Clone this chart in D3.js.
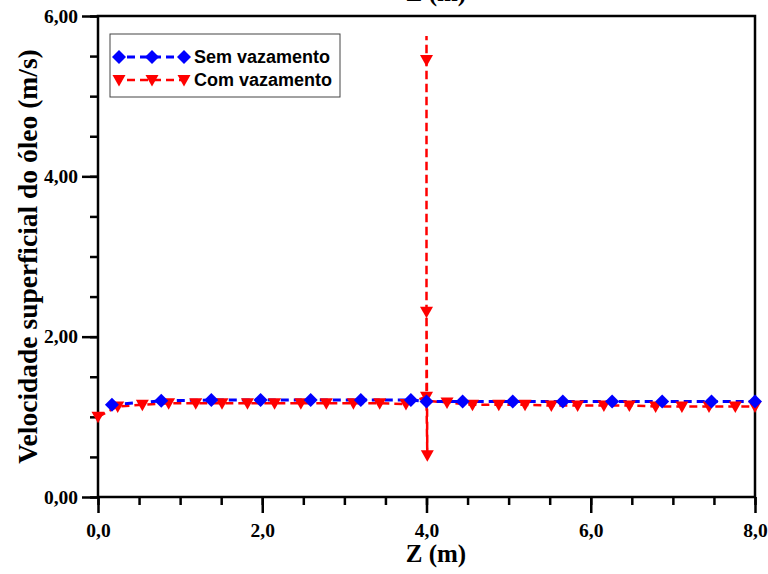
<!DOCTYPE html>
<html>
<head>
<meta charset="utf-8">
<script src="https://cdn.jsdelivr.net/npm/d3@7"></script>
<style>
html,body{margin:0;padding:0;background:#fff;}
svg{display:block;}
</style>
</head>
<body>
<svg id="chart" width="768" height="574"></svg>
<script>
// ---- data ----
const semZ = [0.17, 0.77, 1.38, 1.98, 2.59, 3.20, 3.81, 4.00, 4.44, 5.05, 5.66, 6.26, 6.87, 7.47, 8.00];
const semV = [1.15, 1.20, 1.21, 1.21, 1.21, 1.21, 1.21, 1.19, 1.19, 1.19, 1.19, 1.19, 1.19, 1.19, 1.19];

const comZ = [0.00, 0.24, 0.54, 0.86, 1.19, 1.51, 1.82, 2.15, 2.47, 2.78, 3.11, 3.43, 3.75,
              4.00, 4.00, 4.00, 4.00, 4.01, 4.00,
              4.25, 4.56, 4.88, 5.20, 5.52, 5.84, 6.16, 6.47, 6.79, 7.11, 7.44, 7.76, 8.00];
const comV = [1.00, 1.13, 1.15, 1.17, 1.17, 1.17, 1.17, 1.17, 1.17, 1.17, 1.17, 1.17, 1.16,
              1.25, 5.75, 5.45, 2.31, 0.52, 1.20,
              1.18, 1.15, 1.15, 1.15, 1.14, 1.14, 1.14, 1.14, 1.13, 1.13, 1.13, 1.13, 1.13];
const comMark = [1,1,1,1,1,1,1,1,1,1,1,1,1,
                 1,0,1,1,1,0,
                 1,1,1,1,1,1,1,1,1,1,1,1,1];

const xTicks = [0, 2, 4, 6, 8];
const xTickLabels = ["0,0", "2,0", "4,0", "6,0", "8,0"];
const yTicks = [0, 2, 4, 6];
const yTickLabels = ["0,00", "2,00", "4,00", "6,00"];
const xMinor = d3.range(0, 8.01, 0.5);
const yMinor = d3.range(0, 6.01, 0.5);

const seriesNames = ["Sem vazamento", "Com vazamento"];
const xTitle = "Z (m)";
const yTitle = "Velocidade superficial do óleo (m/s)";

// ---- layout ----
const L = 98, R = 755, T = 16, B = 497;
const x = d3.scaleLinear().domain([0, 8]).range([L, R]);
const y = d3.scaleLinear().domain([0, 6]).range([B, T]);

const svg = d3.select("#chart");
const serif = "'Liberation Serif','Times New Roman',serif";
const sans = "'Liberation Sans',Arial,sans-serif";

const diamond = "M0,-7L7,0L0,7L-7,0Z";
const tri = "M-6.5,-5L6.5,-5L0,6.5Z";

// ---- axes ----
const xMinorAxis = d3.axisBottom(x).tickValues(xMinor).tickSize(8).tickFormat("");
const xMajorAxis = d3.axisBottom(x).tickValues(xTicks).tickSize(16).tickFormat((d,i)=>xTickLabels[i]).tickPadding(10);
const yMinorAxis = d3.axisLeft(y).tickValues(yMinor).tickSize(8).tickFormat("");
const yMajorAxis = d3.axisLeft(y).tickValues(yTicks).tickSize(16).tickFormat((d,i)=>yTickLabels[i]).tickPadding(4);

function styleAxis(g){
  g.select(".domain").remove();
  g.selectAll("line").attr("stroke","#000").attr("stroke-width",2.5);
  g.selectAll("text").attr("font-family",serif).attr("font-weight","bold").attr("font-size",19.5).attr("fill","#000");
}
svg.append("g").attr("transform",`translate(0,${B})`).call(xMinorAxis).call(styleAxis);
svg.append("g").attr("transform",`translate(0,${B})`).call(xMajorAxis).call(styleAxis);
svg.append("g").attr("transform",`translate(${L},0)`).call(yMinorAxis).call(styleAxis);
svg.append("g").attr("transform",`translate(${L},0)`).call(yMajorAxis).call(styleAxis);

// frame
svg.append("rect").attr("x",L).attr("y",T).attr("width",R-L).attr("height",B-T)
  .attr("fill","none").attr("stroke","#000").attr("stroke-width",2.5);

// titles
svg.append("text").attr("x",436).attr("y",562).attr("text-anchor","middle")
  .attr("font-family",serif).attr("font-weight","bold").attr("font-size",25).text(xTitle);
svg.append("text").attr("x",436).attr("y",1).attr("text-anchor","middle")
  .attr("font-family",serif).attr("font-weight","bold").attr("font-size",25).text(xTitle);
svg.append("text").attr("transform",`translate(37,${(T+B)/2}) rotate(-90)`).attr("text-anchor","middle")
  .attr("font-family",serif).attr("font-weight","bold").attr("font-size",27.5).text(yTitle);

// ---- series ----
const line = d3.line().x(d=>x(d[0])).y(d=>y(d[1]));
const comPts = comZ.map((z,i)=>[z, comV[i], comMark[i]]);
const semPts = semZ.map((z,i)=>[z, semV[i]]);

svg.append("path").datum(comPts).attr("d",line).attr("fill","none")
  .attr("stroke","#ff0000").attr("stroke-width",2.5).attr("stroke-dasharray","8,5");
svg.append("path").datum(semPts).attr("d",line).attr("fill","none")
  .attr("stroke","#0000ff").attr("stroke-width",3).attr("stroke-dasharray","8,5");

svg.append("g").selectAll("path").data(comPts.filter(d=>d[2])).join("path")
  .attr("d",tri).attr("transform",d=>`translate(${x(d[0])},${y(d[1])})`).attr("fill","#ff0000");
svg.append("g").selectAll("path").data(semPts).join("path")
  .attr("d",diamond).attr("transform",d=>`translate(${x(d[0])},${y(d[1])})`).attr("fill","#0000ff");

// ---- legend ----
const lg = svg.append("g");
lg.append("rect").attr("x",110).attr("y",34).attr("width",230).attr("height",63)
  .attr("fill","#fff").attr("stroke","#444").attr("stroke-width",1);
const legendItems = [
  {name: seriesNames[0], color:"#0000ff", sym: diamond, yy: 57, w:3},
  {name: seriesNames[1], color:"#ff0000", sym: tri, yy: 80, w:2.5}
];
const symX = [119, 152, 184];
legendItems.forEach(it=>{
  lg.append("line").attr("x1",symX[0]).attr("x2",symX[2]).attr("y1",it.yy).attr("y2",it.yy)
    .attr("stroke",it.color).attr("stroke-width",it.w).attr("stroke-dasharray","8,5").attr("stroke-dashoffset",-8);
  symX.forEach(sx=>{
    lg.append("path").attr("d",it.sym).attr("transform",`translate(${sx},${it.yy})`).attr("fill",it.color);
  });
  lg.append("text").attr("x",194).attr("y",it.yy+6).attr("font-family",sans).attr("font-weight","bold")
    .attr("font-size",18).attr("fill","#000").text(it.name);
});
</script>
</body>
</html>
